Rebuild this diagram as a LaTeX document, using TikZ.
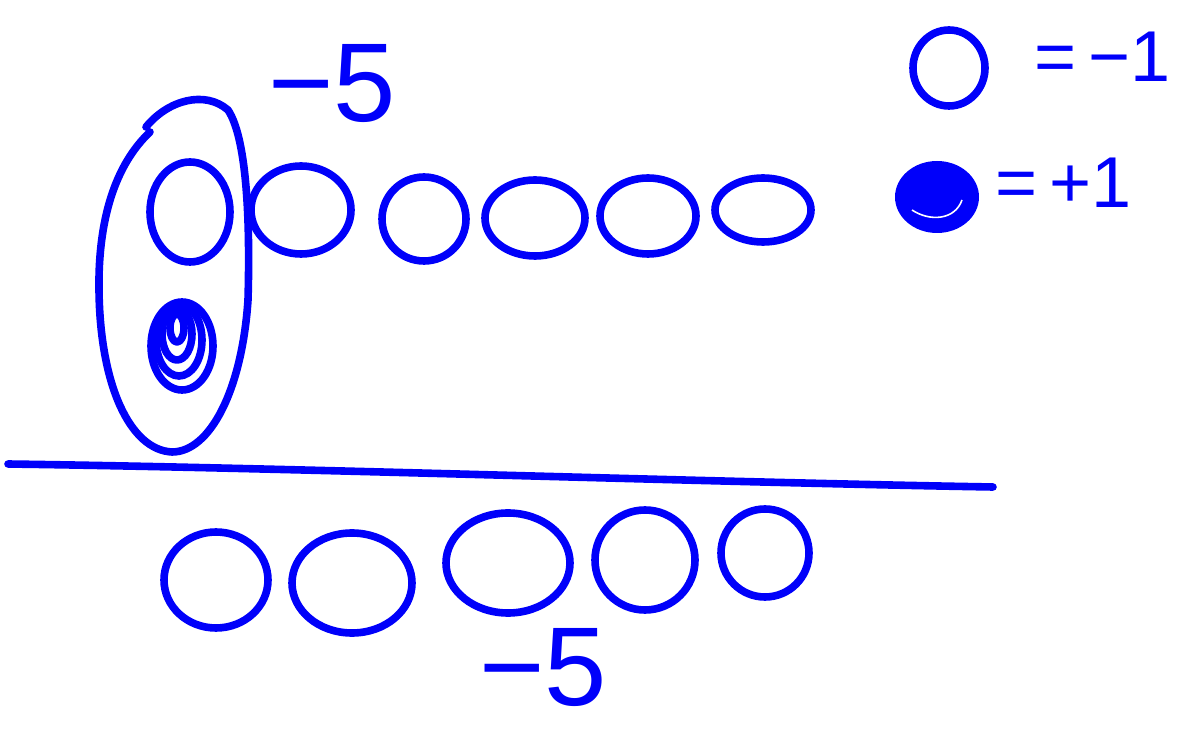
\documentclass[tikz,border=0pt]{standalone}
\usepackage{fontspec}
\setmainfont{Liberation Sans}
\definecolor{ink}{RGB}{0,0,250}
\begin{document}
\begin{tikzpicture}[x=0.5pt,y=-0.5pt,
  pen/.style={draw=ink,line width=3.8pt,line cap=round,line join=round},
  lbl/.style={text=ink,inner sep=0pt,anchor=center}]
\useasboundingbox (0,0) rectangle (1183,731);
% big ellipse with gap
\draw[pen] (146,127) .. controls (168,100) and (205,90) .. (228,110)
  .. controls (248,140) and (250,230) .. (248,300)
  .. controls (242,390) and (210,452) .. (172,452)
  .. controls (130,450) and (100,385) .. (99,290)
  .. controls (98,220) and (115,165) .. (150,132);
% top row circles
\draw[pen] (190,212) circle[x radius=20pt,y radius=25pt];
\draw[pen] (301,210) circle[x radius=25pt,y radius=22pt];
\draw[pen] (424,219) circle[x radius=21pt,y radius=21pt];
\draw[pen] (535,218) circle[x radius=25pt,y radius=19pt];
\draw[pen] (648,216) circle[x radius=24pt,y radius=19pt];
\draw[pen] (763,210) circle[x radius=24pt,y radius=16pt];
% swirl
\draw[pen] (182,346) circle[x radius=15.5pt,y radius=22pt];
\draw[pen] (179,340) circle[x radius=11.5pt,y radius=18pt];
\draw[pen] (177,334) circle[x radius=7.5pt,y radius=13pt];
\draw[pen] (177,328) circle[x radius=3.5pt,y radius=7pt];
% horizontal line
\draw[pen] (8,464) .. controls (300,468) and (700,482) .. (993,487);
% bottom row circles
\draw[pen] (216,580) circle[x radius=26pt,y radius=24pt];
\draw[pen] (352,583) circle[x radius=30pt,y radius=25pt];
\draw[pen] (508,563) circle[x radius=31pt,y radius=25pt];
\draw[pen] (645,560) circle[x radius=25pt,y radius=25pt];
\draw[pen] (765,553) circle[x radius=22pt,y radius=22pt];
% labels -5
\node[lbl,font=\fontsize{56}{58}\selectfont] (topfive) at (332,84) {−5};
\node[lbl,font=\fontsize{56}{58}\selectfont] (botfive) at (543,668) {−5};
% legend
\draw[pen] (949,68) circle[x radius=18pt,y radius=19pt];
\node[lbl,font=\fontsize{36}{40}\selectfont] (minusone) at (1103,57) {=\,−1};
\fill[ink] (937,197) circle[x radius=21pt,y radius=18pt];
\draw[white,line width=0.8pt] (912,210) .. controls (930,222) and (955,220) .. (962,200);
\node[lbl,font=\fontsize{36}{40}\selectfont] (plusone) at (1064,183) {=\,+1};
\end{tikzpicture}
\end{document}
